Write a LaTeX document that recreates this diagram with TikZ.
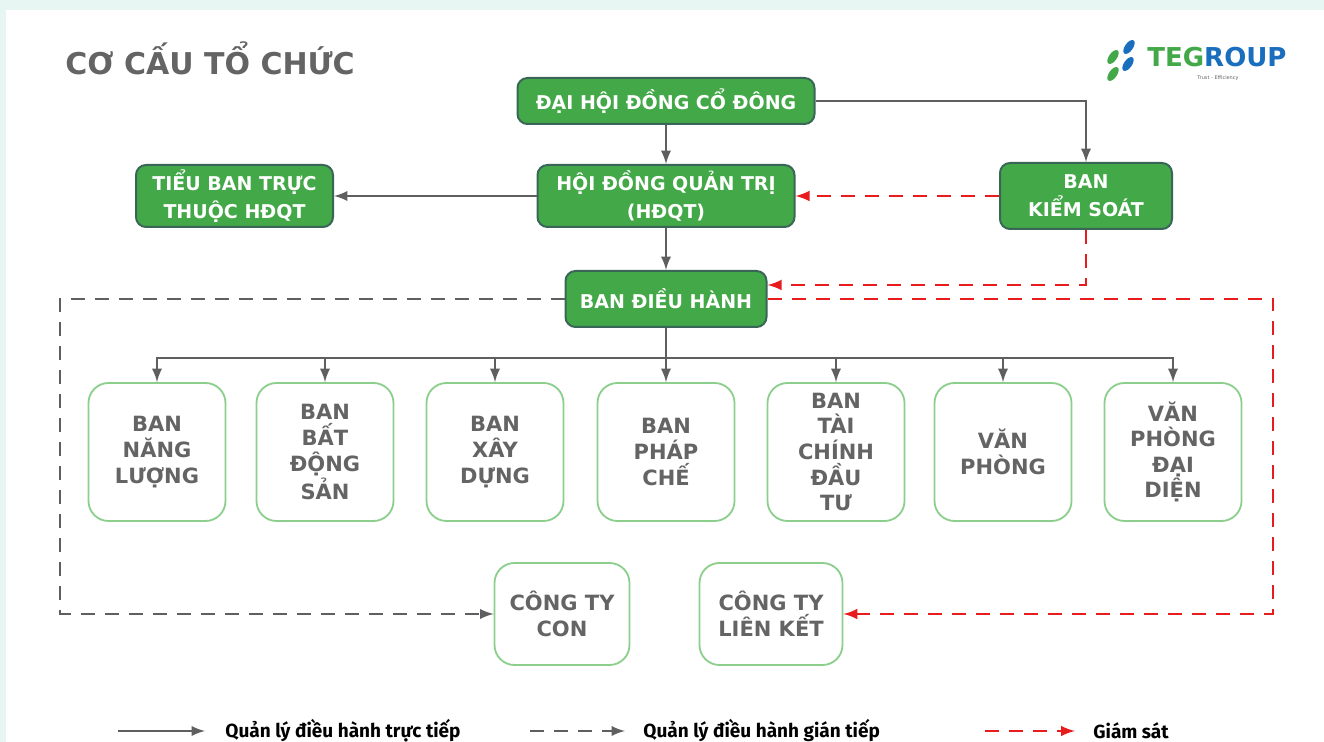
\documentclass[tikz,border=0pt]{standalone}
\usepackage{fontspec}
\setmainfont{DejaVu Sans}
\newfontfamily\legendfont{Fira Sans}
\usepackage{tikz}
\usetikzlibrary{shapes.geometric, arrows}
\definecolor{tegGreen}{RGB}{67,168,72}
\definecolor{tegEdge}{RGB}{58,102,88}
\definecolor{tegBlue}{RGB}{26,110,190}
\definecolor{unitEdge}{RGB}{140,206,140}
\definecolor{txtGray}{RGB}{100,100,100}
\definecolor{lineGray}{RGB}{95,95,95}
\definecolor{watchRed}{RGB}{232,28,28}
\definecolor{mint}{RGB}{231,246,242}

\begin{document}
\begin{tikzpicture}
                        [
                            x=0.5pt, y=-0.5pt,
                            board/.style = {draw=tegEdge, fill=tegGreen, rounded corners=5pt, line width=1pt, text=white, font=\bfseries\fontsize{9.5}{14}\selectfont, align=center, inner sep=0pt},
                            unit/.style = {draw=unitEdge, fill=white, rounded corners=10pt, line width=0.9pt, text=txtGray, font=\bfseries\fontsize{10.5}{12.8}\selectfont, align=center, minimum width=68.5pt, minimum height=69pt, inner sep=0pt},
                            direct/.style = {draw=lineGray, line width=1.3pt, -latex},
                            indirect/.style = {direct, dash pattern=on 7pt off 5pt},
                            watch/.style = {draw=watchRed, line width=1.4pt, dash pattern=on 7pt off 5pt, -latex},
                            legend/.style = {anchor=west, font=\legendfont\bfseries\fontsize{9.5}{10}\selectfont, inner sep=0pt},
                        ]

                        \fill[mint] (0,0) rectangle (1324,742);
                        \fill[white] (6,10) rectangle (1324,742);
                        \useasboundingbox (0,0) rectangle (1324,742);

                        \node[anchor=west, text=txtGray, font=\bfseries\fontsize{15}{18}\selectfont, inner sep=0pt] (title) at (65,58) {CƠ CẤU TỔ CHỨC};

                        \fill[tegBlue, rotate around={-35:(1129,47)}] (1129,47) ellipse (4 and 8);
                        \fill[tegGreen, rotate around={-35:(1113,57)}] (1113,57) ellipse (4 and 8);
                        \fill[tegBlue, rotate around={-35:(1128,64)}] (1128,64) ellipse (4 and 8);
                        \fill[tegGreen, rotate around={-35:(1113,74)}] (1113,74) ellipse (4 and 8);
                        \node[anchor=west, font=\bfseries\fontsize{13}{15}\selectfont, inner sep=0pt] (logo) at (1147,57) {\textcolor{tegGreen}{TEG}\textcolor{tegBlue}{ROUP}};
                        \node[text=txtGray, font=\fontsize{2.5}{3}\selectfont, inner sep=0pt] (motto) at (1218,78) {Trust - Efficiency};

                        \node[board, minimum width=148.5pt, minimum height=23pt] (dhdcd) at (666,101) {ĐẠI HỘI ĐỒNG CỔ ĐÔNG};
                        \node[board, minimum width=128.5pt, minimum height=31pt] (hdqt) at (666,196) {HỘI ĐỒNG QUẢN TRỊ\\(HĐQT)};
                        \node[board, minimum width=98.5pt, minimum height=31pt] (tieuban) at (234.5,196) {TIỂU BAN TRỰC\\THUỘC HĐQT};
                        \node[board, minimum width=86pt, minimum height=33pt] (bks) at (1086,196) {BAN\\KIỂM SOÁT};
                        \node[board, minimum width=100.5pt, minimum height=28pt] (bdh) at (666,299) {BAN ĐIỀU HÀNH};

                        \node[unit] (nangluong) at (157,452) {BAN\\NĂNG\\LƯỢNG};
                        \node[unit] (batdongsan) at (325,452) {BAN\\BẤT\\ĐỘNG\\SẢN};
                        \node[unit] (xaydung) at (495,452) {BAN\\XÂY\\DỰNG};
                        \node[unit] (phapche) at (666,452) {BAN\\PHÁP\\CHẾ};
                        \node[unit] (taichinh) at (836,452) {BAN\\TÀI\\CHÍNH\\ĐẦU\\TƯ};
                        \node[unit] (vanphong) at (1003,452) {VĂN\\PHÒNG};
                        \node[unit] (daidien) at (1173,452) {VĂN\\PHÒNG\\ĐẠI\\DIỆN};

                        \node[unit, minimum width=67.5pt, minimum height=51pt] (congtycon) at (562,614) {CÔNG TY\\CON};
                        \node[unit, minimum width=71.5pt, minimum height=51pt] (lienket) at (771,614) {CÔNG TY\\LIÊN KẾT};

                        \coordinate (bus) at (666,358);
                        \coordinate (redcorner) at (1273,614);
                        \coordinate (graycorner) at (60,614);

                        \draw [direct] (dhdcd) -- (hdqt);
                        \draw [direct] (dhdcd.east) -| (bks.north);
                        \draw [direct] (hdqt) -- (tieuban);
                        \draw [direct] (hdqt) -- (bdh);
                        \draw [watch] (bks) -- (hdqt);
                        \draw [watch] (bks.south) |- ([yshift=7pt]bdh.east);
                        \draw [watch] (bdh.east) -| (redcorner) -- (lienket);
                        \draw [indirect] (bdh.west) -| (graycorner) -- (congtycon);

                        \draw [draw=lineGray, line width=1.3pt] (bdh) -- (bus);
                        \draw [direct] (bus) -| (nangluong);
                        \draw [direct] (bus) -| (batdongsan);
                        \draw [direct] (bus) -| (xaydung);
                        \draw [direct] (bus) -- (phapche);
                        \draw [direct] (bus) -| (taichinh);
                        \draw [direct] (bus) -| (vanphong);
                        \draw [direct] (bus) -| (daidien);

                        \coordinate (lga) at (118,731);
                        \coordinate (lgb) at (205,731);
                        \coordinate (lia) at (530,731);
                        \coordinate (lib) at (625,731);
                        \coordinate (lwa) at (985,731);
                        \coordinate (lwb) at (1075,731);
                        \draw [direct] (lga) -- (lgb);
                        \draw [indirect] (lia) -- (lib);
                        \draw [watch] (lwa) -- (lwb);
                        \node[legend] (lgtext) at (225,731) {Quản lý điều hành trực tiếp};
                        \node[legend] (litext) at (643,731) {Quản lý điều hành gián tiếp};
                        \node[legend] (lwtext) at (1093,731) {Giám sát};

                    \end{tikzpicture}
\end{document}
